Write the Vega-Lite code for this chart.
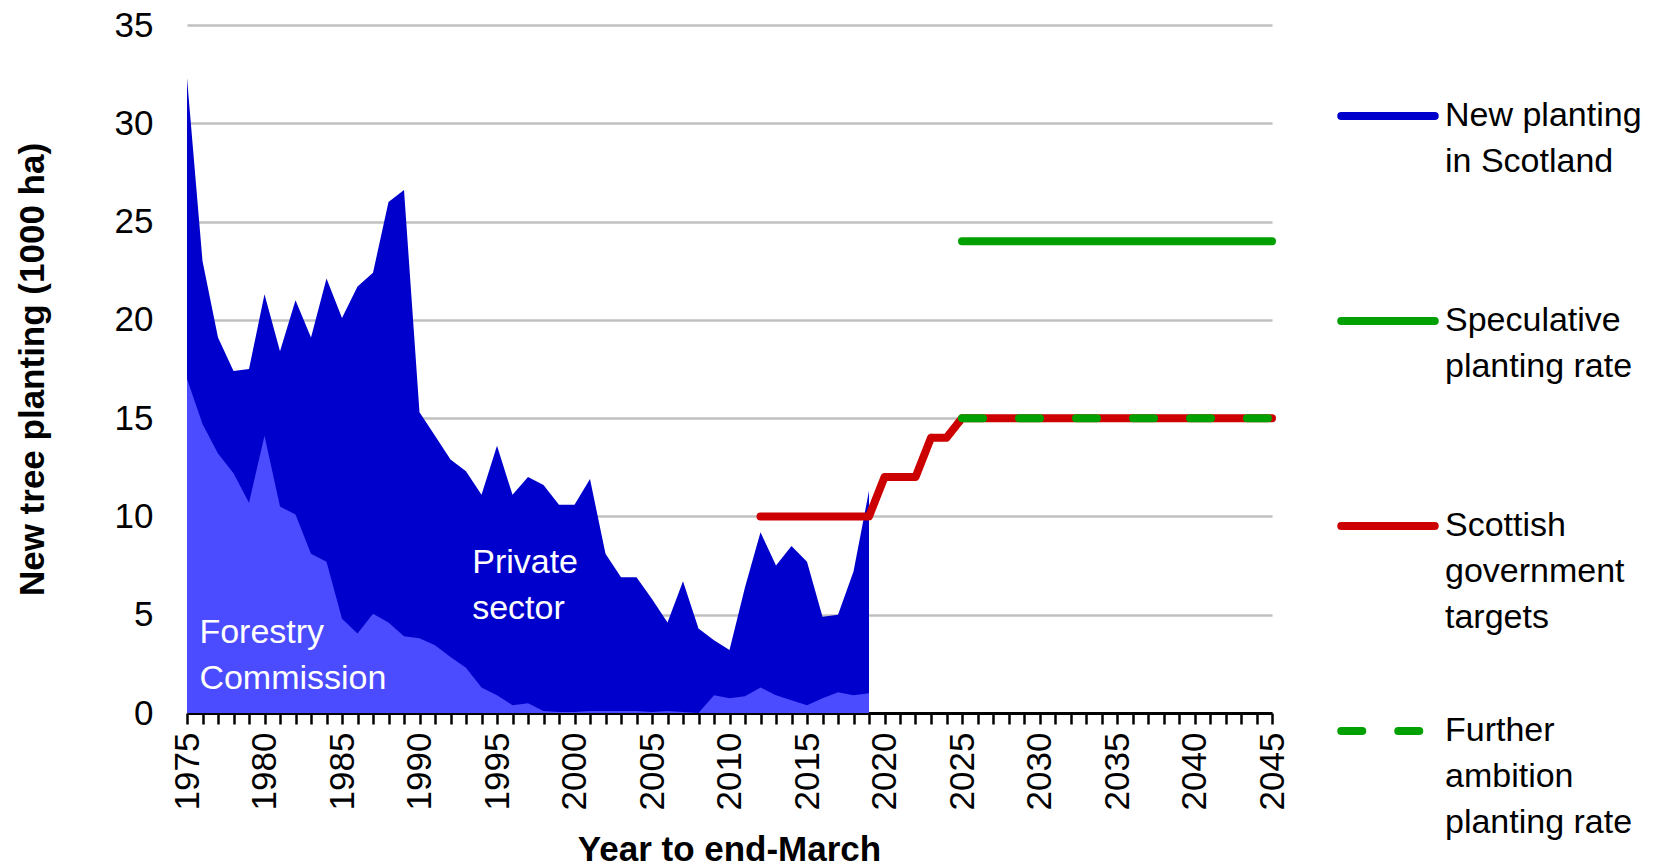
{
  "$schema": "https://vega.github.io/schema/vega-lite/v6.json",
  "width": 1085,
  "height": 688,
  "autosize": {"type": "none"},
  "padding": {"left": 187, "top": 25, "right": 396, "bottom": 155},
  "background": "white",
  "config": {"view": {"stroke": null}, "font": "Liberation Sans"},
  "datasets": {
    "hist": [
      {"year": 1975, "total": 32.3, "fc": 17.0},
      {"year": 1976, "total": 23.0, "fc": 14.7},
      {"year": 1977, "total": 19.1, "fc": 13.2},
      {"year": 1978, "total": 17.4, "fc": 12.2},
      {"year": 1979, "total": 17.5, "fc": 10.7},
      {"year": 1980, "total": 21.3, "fc": 14.1},
      {"year": 1981, "total": 18.4, "fc": 10.5},
      {"year": 1982, "total": 21.0, "fc": 10.1},
      {"year": 1983, "total": 19.1, "fc": 8.1},
      {"year": 1984, "total": 22.1, "fc": 7.7},
      {"year": 1985, "total": 20.1, "fc": 4.8},
      {"year": 1986, "total": 21.7, "fc": 4.05},
      {"year": 1987, "total": 22.4, "fc": 5.05},
      {"year": 1988, "total": 26.0, "fc": 4.6},
      {"year": 1989, "total": 26.6, "fc": 3.9},
      {"year": 1990, "total": 15.3, "fc": 3.8},
      {"year": 1991, "total": 14.1, "fc": 3.45},
      {"year": 1992, "total": 12.9, "fc": 2.85},
      {"year": 1993, "total": 12.3, "fc": 2.3},
      {"year": 1994, "total": 11.1, "fc": 1.3},
      {"year": 1995, "total": 13.6, "fc": 0.9},
      {"year": 1996, "total": 11.1, "fc": 0.4},
      {"year": 1997, "total": 12.0, "fc": 0.5},
      {"year": 1998, "total": 11.6, "fc": 0.1},
      {"year": 1999, "total": 10.6, "fc": 0.05},
      {"year": 2000, "total": 10.6, "fc": 0.05},
      {"year": 2001, "total": 11.9, "fc": 0.1},
      {"year": 2002, "total": 8.1, "fc": 0.1},
      {"year": 2003, "total": 6.9, "fc": 0.1},
      {"year": 2004, "total": 6.9, "fc": 0.1},
      {"year": 2005, "total": 5.8, "fc": 0.05},
      {"year": 2006, "total": 4.6, "fc": 0.1},
      {"year": 2007, "total": 6.7, "fc": 0.05},
      {"year": 2008, "total": 4.3, "fc": 0.0},
      {"year": 2009, "total": 3.7, "fc": 0.9},
      {"year": 2010, "total": 3.2, "fc": 0.75},
      {"year": 2011, "total": 6.4, "fc": 0.85},
      {"year": 2012, "total": 9.2, "fc": 1.3},
      {"year": 2013, "total": 7.5, "fc": 0.9},
      {"year": 2014, "total": 8.5, "fc": 0.65},
      {"year": 2015, "total": 7.7, "fc": 0.4},
      {"year": 2016, "total": 4.9, "fc": 0.75},
      {"year": 2017, "total": 5.0, "fc": 1.05},
      {"year": 2018, "total": 7.2, "fc": 0.9},
      {"year": 2019, "total": 11.3, "fc": 1.0}
    ],
    "targets": [
      {"series": "Scottish government targets", "year": 2012, "value": 10},
      {"series": "Scottish government targets", "year": 2013, "value": 10},
      {"series": "Scottish government targets", "year": 2014, "value": 10},
      {"series": "Scottish government targets", "year": 2015, "value": 10},
      {"series": "Scottish government targets", "year": 2016, "value": 10},
      {"series": "Scottish government targets", "year": 2017, "value": 10},
      {"series": "Scottish government targets", "year": 2018, "value": 10},
      {"series": "Scottish government targets", "year": 2019, "value": 10},
      {"series": "Scottish government targets", "year": 2020, "value": 12},
      {"series": "Scottish government targets", "year": 2021, "value": 12},
      {"series": "Scottish government targets", "year": 2022, "value": 12},
      {"series": "Scottish government targets", "year": 2023, "value": 14},
      {"series": "Scottish government targets", "year": 2024, "value": 14},
      {"series": "Scottish government targets", "year": 2025, "value": 15},
      {"series": "Scottish government targets", "year": 2030, "value": 15},
      {"series": "Scottish government targets", "year": 2035, "value": 15},
      {"series": "Scottish government targets", "year": 2040, "value": 15},
      {"series": "Scottish government targets", "year": 2045, "value": 15},
      {"series": "Speculative planting rate", "year": 2025, "value": 24},
      {"series": "Speculative planting rate", "year": 2030, "value": 24},
      {"series": "Speculative planting rate", "year": 2035, "value": 24},
      {"series": "Speculative planting rate", "year": 2040, "value": 24},
      {"series": "Speculative planting rate", "year": 2045, "value": 24},
      {"series": "Further ambition planting rate", "year": 2025, "value": 15},
      {"series": "Further ambition planting rate", "year": 2030, "value": 15},
      {"series": "Further ambition planting rate", "year": 2035, "value": 15},
      {"series": "Further ambition planting rate", "year": 2040, "value": 15},
      {"series": "Further ambition planting rate", "year": 2045, "value": 15}
    ]
  },
  "layer": [
    {
      "data": {"name": "hist"},
      "mark": {"type": "area", "color": "#0000CC"},
      "encoding": {
        "x": {
          "field": "year",
          "type": "quantitative",
          "title": "Year to end-March",
          "scale": {"domain": [1975, 2045], "nice": false, "zero": false},
          "axis": {"values": [1975,1976,1977,1978,1979,1980,1981,1982,1983,1984,1985,1986,1987,1988,1989,1990,1991,1992,1993,1994,1995,1996,1997,1998,1999,2000,2001,2002,2003,2004,2005,2006,2007,2008,2009,2010,2011,2012,2013,2014,2015,2016,2017,2018,2019,2020,2021,2022,2023,2024,2025,2026,2027,2028,2029,2030,2031,2032,2033,2034,2035,2036,2037,2038,2039,2040,2041,2042,2043,2044,2045], "format": "d", "labelExpr": "datum.value % 5 == 0 ? datum.label : ''", "labelAngle": -90, "labelFontSize": 35, "labelColor": "black", "labelPadding": 8, "labelOverlap": false, "labelFlush": false, "tickSize": 11, "tickWidth": 2.5, "tickColor": "black", "domainColor": "black", "domainWidth": 3, "grid": false, "titleFontSize": 35, "titleFontWeight": "bold", "titleColor": "black", "titleBaseline": "alphabetic", "titleY": 147, "titleX": 542}
        },
        "y": {
          "field": "total",
          "type": "quantitative",
          "title": "New tree planting (1000 ha)",
          "scale": {"domain": [0, 35], "nice": false},
          "axis": {
            "values": [0, 5, 10, 15, 20, 25, 30, 35],
            "ticks": false,
            "tickSize": 0,
            "domain": false,
            "labelFontSize": 35,
            "labelColor": "black",
            "labelPadding": 34,
            "grid": true,
            "gridColor": "#C0C0C0",
            "gridWidth": 2.5,
            "titleFontSize": 35,
            "titleFontWeight": "bold",
            "titleColor": "black",
            "titleAngle": -90,
            "titleBaseline": "alphabetic",
            "titleAlign": "center",
            "titleX": -144,
            "titleY": 344
          }
        }
      }
    },
    {
      "data": {"name": "hist"},
      "mark": {"type": "area", "color": "#4B4BFF"},
      "encoding": {
        "x": {
          "field": "year",
          "type": "quantitative",
          "title": "Year to end-March",
          "axis": {"values": [1975,1976,1977,1978,1979,1980,1981,1982,1983,1984,1985,1986,1987,1988,1989,1990,1991,1992,1993,1994,1995,1996,1997,1998,1999,2000,2001,2002,2003,2004,2005,2006,2007,2008,2009,2010,2011,2012,2013,2014,2015,2016,2017,2018,2019,2020,2021,2022,2023,2024,2025,2026,2027,2028,2029,2030,2031,2032,2033,2034,2035,2036,2037,2038,2039,2040,2041,2042,2043,2044,2045], "format": "d", "labelExpr": "datum.value % 5 == 0 ? datum.label : ''", "labelAngle": -90, "labelFontSize": 35, "labelColor": "black", "labelPadding": 8, "labelOverlap": false, "labelFlush": false, "tickSize": 11, "tickWidth": 2.5, "tickColor": "black", "domainColor": "black", "domainWidth": 3, "grid": false, "titleFontSize": 35, "titleFontWeight": "bold", "titleColor": "black", "titleBaseline": "alphabetic", "titleY": 147, "titleX": 542}
        },
        "y": {"field": "fc", "type": "quantitative", "title": "New tree planting (1000 ha)"}
      }
    },
    {
      "data": {"values": [{"label": "Forestry Commission"}]},
      "mark": {"type": "text", "color": "white", "fontSize": 34, "align": "left", "baseline": "alphabetic", "lineHeight": 46},
      "encoding": {
        "x": {
          "datum": 1975.8,
          "type": "quantitative",
          "title": "Year to end-March",
          "axis": {"values": [1975,1976,1977,1978,1979,1980,1981,1982,1983,1984,1985,1986,1987,1988,1989,1990,1991,1992,1993,1994,1995,1996,1997,1998,1999,2000,2001,2002,2003,2004,2005,2006,2007,2008,2009,2010,2011,2012,2013,2014,2015,2016,2017,2018,2019,2020,2021,2022,2023,2024,2025,2026,2027,2028,2029,2030,2031,2032,2033,2034,2035,2036,2037,2038,2039,2040,2041,2042,2043,2044,2045], "format": "d", "labelExpr": "datum.value % 5 == 0 ? datum.label : ''", "labelAngle": -90, "labelFontSize": 35, "labelColor": "black", "labelPadding": 8, "labelOverlap": false, "labelFlush": false, "tickSize": 11, "tickWidth": 2.5, "tickColor": "black", "domainColor": "black", "domainWidth": 3, "grid": false, "titleFontSize": 35, "titleFontWeight": "bold", "titleColor": "black", "titleBaseline": "alphabetic", "titleY": 147, "titleX": 542}
        },
        "y": {"datum": 3.55, "type": "quantitative", "title": "New tree planting (1000 ha)"},
        "text": {"value": ["Forestry", "Commission"]}
      }
    },
    {
      "data": {"values": [{"label": "Private sector"}]},
      "mark": {"type": "text", "color": "white", "fontSize": 34, "align": "left", "baseline": "alphabetic", "lineHeight": 46},
      "encoding": {
        "x": {
          "datum": 1993.4,
          "type": "quantitative",
          "title": "Year to end-March",
          "axis": {"values": [1975,1976,1977,1978,1979,1980,1981,1982,1983,1984,1985,1986,1987,1988,1989,1990,1991,1992,1993,1994,1995,1996,1997,1998,1999,2000,2001,2002,2003,2004,2005,2006,2007,2008,2009,2010,2011,2012,2013,2014,2015,2016,2017,2018,2019,2020,2021,2022,2023,2024,2025,2026,2027,2028,2029,2030,2031,2032,2033,2034,2035,2036,2037,2038,2039,2040,2041,2042,2043,2044,2045], "format": "d", "labelExpr": "datum.value % 5 == 0 ? datum.label : ''", "labelAngle": -90, "labelFontSize": 35, "labelColor": "black", "labelPadding": 8, "labelOverlap": false, "labelFlush": false, "tickSize": 11, "tickWidth": 2.5, "tickColor": "black", "domainColor": "black", "domainWidth": 3, "grid": false, "titleFontSize": 35, "titleFontWeight": "bold", "titleColor": "black", "titleBaseline": "alphabetic", "titleY": 147, "titleX": 542}
        },
        "y": {"datum": 7.14, "type": "quantitative", "title": "New tree planting (1000 ha)"},
        "text": {"value": ["Private", "sector"]}
      }
    },
    {
      "data": {"name": "targets"},
      "transform": [{"filter": "datum.series == 'Scottish government targets'"}],
      "mark": {"type": "line", "strokeWidth": 8, "strokeCap": "round", "strokeJoin": "round"},
      "encoding": {
        "x": {
          "field": "year",
          "type": "quantitative",
          "title": "Year to end-March",
          "axis": {"values": [1975,1976,1977,1978,1979,1980,1981,1982,1983,1984,1985,1986,1987,1988,1989,1990,1991,1992,1993,1994,1995,1996,1997,1998,1999,2000,2001,2002,2003,2004,2005,2006,2007,2008,2009,2010,2011,2012,2013,2014,2015,2016,2017,2018,2019,2020,2021,2022,2023,2024,2025,2026,2027,2028,2029,2030,2031,2032,2033,2034,2035,2036,2037,2038,2039,2040,2041,2042,2043,2044,2045], "format": "d", "labelExpr": "datum.value % 5 == 0 ? datum.label : ''", "labelAngle": -90, "labelFontSize": 35, "labelColor": "black", "labelPadding": 8, "labelOverlap": false, "labelFlush": false, "tickSize": 11, "tickWidth": 2.5, "tickColor": "black", "domainColor": "black", "domainWidth": 3, "grid": false, "titleFontSize": 35, "titleFontWeight": "bold", "titleColor": "black", "titleBaseline": "alphabetic", "titleY": 147, "titleX": 542}
        },
        "y": {"field": "value", "type": "quantitative", "title": "New tree planting (1000 ha)"},
        "stroke": {
          "field": "series",
          "type": "nominal",
          "scale": {
            "domain": ["New planting in Scotland", "Speculative planting rate", "Scottish government targets", "Further ambition planting rate"],
            "range": ["#0000CC", "#00A000", "#CC0000", "#00A000"]
          },
          "legend": {
            "orient": "none",
            "legendX": 1150,
            "legendY": 40,
            "title": null,
            "padding": 0,
            "symbolType": "stroke",
            "symbolSize": 8742,
            "symbolStrokeWidth": 8,
            "labelFontSize": 34,
            "labelColor": "black",
            "labelLimit": 500,
            "labelOffset": 6,
            "rowPadding": 45,
            "gridAlign": "all",
            "labelBaseline": "middle",
            "labelExpr": "datum.label == 'New planting in Scotland' ? ['New planting', 'in Scotland'] : datum.label == 'Speculative planting rate' ? ['Speculative', 'planting rate'] : datum.label == 'Scottish government targets' ? ['Scottish', 'government', 'targets'] : ['Further', 'ambition', 'planting rate']",
            "encoding": {
              "labels": {"lineHeight": {"value": 46}},
              "symbols": {"strokeCap": {"value": "round"}}
            }
          }
        },
        "strokeDash": {
          "field": "series",
          "type": "nominal",
          "scale": {
            "domain": ["New planting in Scotland", "Speculative planting rate", "Scottish government targets", "Further ambition planting rate"],
            "range": [[1, 0], [1, 0], [1, 0], [21, 36]]
          }
        }
      }
    },
    {
      "data": {"name": "targets"},
      "transform": [{"filter": "datum.series == 'Speculative planting rate'"}],
      "mark": {"type": "line", "strokeWidth": 8, "strokeCap": "round", "strokeJoin": "round"},
      "encoding": {
        "x": {
          "field": "year",
          "type": "quantitative",
          "title": "Year to end-March",
          "axis": {"values": [1975,1976,1977,1978,1979,1980,1981,1982,1983,1984,1985,1986,1987,1988,1989,1990,1991,1992,1993,1994,1995,1996,1997,1998,1999,2000,2001,2002,2003,2004,2005,2006,2007,2008,2009,2010,2011,2012,2013,2014,2015,2016,2017,2018,2019,2020,2021,2022,2023,2024,2025,2026,2027,2028,2029,2030,2031,2032,2033,2034,2035,2036,2037,2038,2039,2040,2041,2042,2043,2044,2045], "format": "d", "labelExpr": "datum.value % 5 == 0 ? datum.label : ''", "labelAngle": -90, "labelFontSize": 35, "labelColor": "black", "labelPadding": 8, "labelOverlap": false, "labelFlush": false, "tickSize": 11, "tickWidth": 2.5, "tickColor": "black", "domainColor": "black", "domainWidth": 3, "grid": false, "titleFontSize": 35, "titleFontWeight": "bold", "titleColor": "black", "titleBaseline": "alphabetic", "titleY": 147, "titleX": 542}
        },
        "y": {"field": "value", "type": "quantitative", "title": "New tree planting (1000 ha)"},
        "stroke": {"field": "series", "type": "nominal"},
        "strokeDash": {"field": "series", "type": "nominal"}
      }
    },
    {
      "data": {"name": "targets"},
      "transform": [{"filter": "datum.series == 'Further ambition planting rate'"}],
      "mark": {"type": "line", "strokeWidth": 8, "strokeCap": "round", "strokeJoin": "round"},
      "encoding": {
        "x": {
          "field": "year",
          "type": "quantitative",
          "title": "Year to end-March",
          "axis": {"values": [1975,1976,1977,1978,1979,1980,1981,1982,1983,1984,1985,1986,1987,1988,1989,1990,1991,1992,1993,1994,1995,1996,1997,1998,1999,2000,2001,2002,2003,2004,2005,2006,2007,2008,2009,2010,2011,2012,2013,2014,2015,2016,2017,2018,2019,2020,2021,2022,2023,2024,2025,2026,2027,2028,2029,2030,2031,2032,2033,2034,2035,2036,2037,2038,2039,2040,2041,2042,2043,2044,2045], "format": "d", "labelExpr": "datum.value % 5 == 0 ? datum.label : ''", "labelAngle": -90, "labelFontSize": 35, "labelColor": "black", "labelPadding": 8, "labelOverlap": false, "labelFlush": false, "tickSize": 11, "tickWidth": 2.5, "tickColor": "black", "domainColor": "black", "domainWidth": 3, "grid": false, "titleFontSize": 35, "titleFontWeight": "bold", "titleColor": "black", "titleBaseline": "alphabetic", "titleY": 147, "titleX": 542}
        },
        "y": {"field": "value", "type": "quantitative", "title": "New tree planting (1000 ha)"},
        "stroke": {"field": "series", "type": "nominal"},
        "strokeDash": {"field": "series", "type": "nominal"}
      }
    }
  ]
}
